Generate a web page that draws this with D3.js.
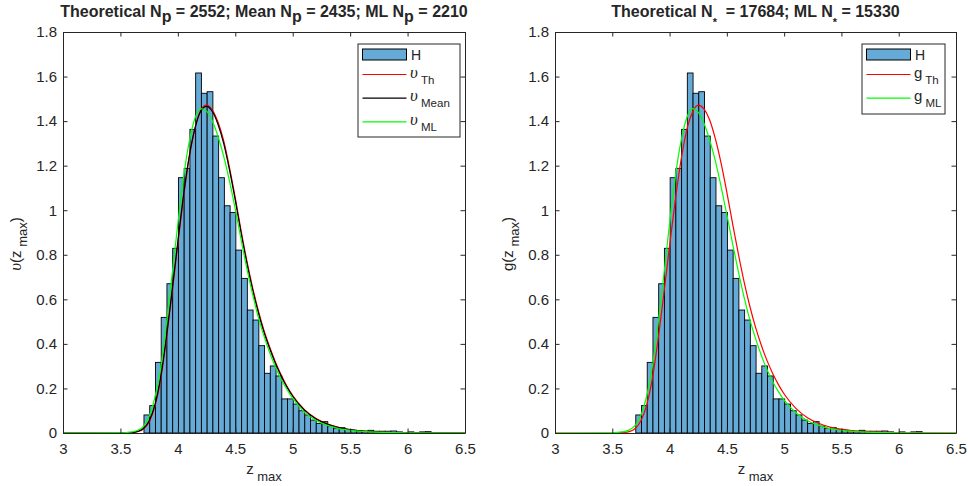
<!DOCTYPE html>
<html>
<head>
<meta charset="utf-8">
<script src="https://cdn.jsdelivr.net/npm/d3@7"></script>
<style>
  body { margin: 0; background: #fff; }
  svg text { font-family: "Liberation Sans", Arial, Helvetica, sans-serif; fill: #262626; white-space: pre; }
</style>
</head>
<body>
<svg id="chart" width="968" height="486"></svg>
<script>
// histogram of z_max (pdf normalised), same sample in both panels
var binEdges = [3.705, 3.755, 3.805, 3.855, 3.905, 3.955, 4.005, 4.055, 4.105, 4.155,
                4.205, 4.255, 4.305, 4.355, 4.405, 4.455, 4.505, 4.555, 4.605, 4.655,
                4.705, 4.755, 4.805, 4.855, 4.905, 4.955, 5.005, 5.055, 5.105, 5.155,
                5.205, 5.255, 5.305, 5.355, 5.405, 5.455, 5.505, 5.555, 5.605, 5.655,
                5.705, 5.755, 5.805, 5.855, 5.905, 5.955, 6.005, 6.055, 6.105, 6.155, 6.205];
var density = [0.081, 0.123, 0.317, 0.519, 0.670, 0.829, 1.146, 1.188, 1.363, 1.616,
               1.525, 1.532, 1.333, 1.146, 1.020, 0.990, 0.821, 0.694, 0.552, 0.507,
               0.392, 0.268, 0.301, 0.256, 0.153, 0.153, 0.130, 0.100, 0.081, 0.058,
               0.043, 0.051, 0.031, 0.021, 0.024, 0.016, 0.012, 0.011, 0.008, 0.012,
               0.008, 0.008, 0.008, 0.009, 0.005, 0, 0.005, 0, 0.005, 0.006];

// fitted pdf curves, read at these z values
var zGrid = [3.0, 3.5, 3.55, 3.6, 3.65, 3.7, 3.75, 3.8, 3.85, 3.9, 3.95, 4.0, 4.05, 4.1,
             4.15, 4.2, 4.25, 4.3, 4.35, 4.4, 4.45, 4.5, 4.55, 4.6, 4.65, 4.7, 4.75, 4.8,
             4.85, 4.9, 4.95, 5.0, 5.1, 5.2, 5.3, 5.4, 5.5, 5.6, 5.8, 6.0, 6.5];
var vTh   = [0, 0, 0.001, 0.002, 0.006, 0.018, 0.05, 0.12, 0.24, 0.42, 0.63, 0.85, 1.06, 1.24,
             1.37, 1.45, 1.472, 1.45, 1.395, 1.31, 1.19, 1.055, 0.91, 0.775, 0.655, 0.55, 0.46, 0.385,
             0.318, 0.26, 0.21, 0.168, 0.106, 0.066, 0.041, 0.025, 0.015, 0.009, 0.003, 0.001, 0];
var vMean = [0, 0, 0.001, 0.002, 0.007, 0.02, 0.054, 0.126, 0.25, 0.43, 0.64, 0.86, 1.07, 1.245,
             1.37, 1.445, 1.466, 1.443, 1.385, 1.298, 1.18, 1.045, 0.90, 0.765, 0.645, 0.542, 0.452, 0.378,
             0.312, 0.255, 0.206, 0.165, 0.104, 0.064, 0.04, 0.024, 0.015, 0.009, 0.003, 0.001, 0];
var vML   = [0, 0.001, 0.002, 0.005, 0.012, 0.03, 0.075, 0.16, 0.29, 0.49, 0.71, 0.94, 1.15, 1.31,
             1.415, 1.456, 1.445, 1.40, 1.33, 1.24, 1.13, 1.005, 0.87, 0.74, 0.625, 0.52, 0.435, 0.36,
             0.295, 0.24, 0.195, 0.155, 0.095, 0.057, 0.034, 0.02, 0.012, 0.007, 0.0025, 0.001, 0];
var gTh   = [0, 0, 0.001, 0.002, 0.006, 0.02, 0.055, 0.125, 0.245, 0.42, 0.625, 0.84, 1.045, 1.225,
             1.36, 1.44, 1.472, 1.455, 1.405, 1.32, 1.21, 1.08, 0.94, 0.805, 0.68, 0.57, 0.475, 0.395,
             0.326, 0.267, 0.217, 0.175, 0.112, 0.07, 0.044, 0.027, 0.017, 0.01, 0.0035, 0.001, 0];
var gML   = [0, 0.001, 0.003, 0.006, 0.014, 0.034, 0.08, 0.165, 0.30, 0.49, 0.71, 0.94, 1.15, 1.31,
             1.415, 1.456, 1.44, 1.39, 1.315, 1.22, 1.105, 0.98, 0.85, 0.725, 0.61, 0.51, 0.425, 0.35,
             0.285, 0.23, 0.186, 0.148, 0.092, 0.056, 0.034, 0.02, 0.012, 0.007, 0.0025, 0.001, 0];

var xTicks = [3, 3.5, 4, 4.5, 5, 5.5, 6, 6.5];
var yTicks = [0, 0.2, 0.4, 0.6, 0.8, 1, 1.2, 1.4, 1.6, 1.8];

var axisColor = '#262626';
var barColor = '#66aad7';
var plotTop = 32, plotBottom = 433;

var svg = d3.select('#chart');

// writes text with lowered (subscript) pieces
function rich(text, parts, shift, subSize) {
  var cur = 0;
  parts.forEach(function(p) {
    var s = p.sub ? (p.shift || shift) : 0;
    var t = text.append('tspan').text(p.t).attr('dy', s - cur);
    cur = s;
    if (p.size) t.style('font-size', p.size + 'px');
    else if (p.sub && subSize) t.style('font-size', subSize + 'px');
    if (p.greek) t.style('font-family', '"Liberation Serif", "DejaVu Serif", serif').style('font-style', 'italic');
  });
  return text;
}

function drawPanel(cfg) {
  var x = d3.scaleLinear().domain([3, 6.5]).range([cfg.left, cfg.right]);
  var y = d3.scaleLinear().domain([0, 1.8]).range([plotBottom, plotTop]);
  var g = svg.append('g');

  var bins = density.map(function(d, i) { return { x0: binEdges[i], x1: binEdges[i + 1], v: d }; })
                    .filter(function(d) { return d.v > 0; });

  g.selectAll('rect.bar')
   .data(bins)
   .enter()
   .append('rect')
     .attr('class', 'bar')
     .attr('x', function(d) { return x(d.x0); })
     .attr('y', function(d) { return y(d.v); })
     .attr('width', function(d) { return x(d.x1) - x(d.x0); })
     .attr('height', function(d) { return y(0) - y(d.v); })
     .attr('fill', barColor)
     .attr('stroke', '#000')
     .attr('stroke-width', 0.9);

  var line = d3.line()
               .x(function(d) { return x(d[0]); })
               .y(function(d) { return y(d[1]); })
               .curve(d3.curveMonotoneX);

  cfg.curves.forEach(function(c) {
    g.append('path')
     .datum(zGrid.map(function(z, i) { return [z, c.values[i]]; }))
     .attr('d', line)
     .attr('fill', 'none')
     .attr('stroke', c.color)
     .attr('stroke-width', 1.2);
  });

  // axes, MATLAB style box with inward ticks
  function styleAxis(a) {
    a.selectAll('path').attr('stroke', axisColor).attr('stroke-width', 1);
    a.selectAll('line').attr('stroke', axisColor);
    a.selectAll('text').attr('fill', axisColor).style('font-size', '15px')
     .style('font-family', '"Liberation Sans", Arial, sans-serif');
  }
  var fmt = d3.format('~g');
  g.append('g').attr('transform', 'translate(0,' + plotBottom + ')')
   .call(d3.axisBottom(x).tickValues(xTicks).tickFormat(fmt).tickSizeInner(-4.5).tickSizeOuter(0).tickPadding(10))
   .call(styleAxis);
  g.append('g').attr('transform', 'translate(0,' + plotTop + ')')
   .call(d3.axisTop(x).tickValues(xTicks).tickFormat('').tickSizeInner(-4.5).tickSizeOuter(0))
   .call(styleAxis);
  g.append('g').attr('transform', 'translate(' + cfg.left + ',0)')
   .call(d3.axisLeft(y).tickValues(yTicks).tickFormat(fmt).tickSizeInner(-4.5).tickSizeOuter(0).tickPadding(6))
   .call(styleAxis);
  g.append('g').attr('transform', 'translate(' + cfg.right + ',0)')
   .call(d3.axisRight(y).tickValues(yTicks).tickFormat('').tickSizeInner(-4.5).tickSizeOuter(0))
   .call(styleAxis);

  // title
  var cx = (cfg.left + cfg.right) / 2;
  rich(g.append('text').attr('x', cx).attr('y', 17).attr('text-anchor', 'middle')
        .style('font-size', '16px').style('font-weight', 'bold').attr('fill', '#000'),
       cfg.title, 5);

  // x label
  rich(g.append('text').attr('x', cx).attr('y', 474).attr('text-anchor', 'middle')
        .style('font-size', '15px'),
       [{ t: 'z' }, { t: ' max', sub: true }], 7, 13);

  // y label
  rich(g.append('text')
        .attr('transform', 'translate(' + (cfg.left - 42) + ',244) rotate(-90)')
        .attr('text-anchor', 'middle').style('font-size', '15px'),
       cfg.ylabel, 6, 13);

  // legend
  var lg = g.append('g').attr('transform', 'translate(' + cfg.legend.x + ',44)');
  lg.append('rect').attr('width', cfg.legend.w).attr('height', cfg.legend.h)
    .attr('fill', '#fff').attr('stroke', axisColor).attr('stroke-width', 1);
  lg.append('rect').attr('x', 4.5).attr('y', 5).attr('width', 44).attr('height', 11)
    .attr('fill', barColor).attr('stroke', '#000').attr('stroke-width', 1);
  lg.append('text').attr('x', 53).attr('y', 15.5).style('font-size', '14px').text('H');
  cfg.curves.forEach(function(c, i) {
    var ly = 30.5 + i * 23.7;
    lg.append('line').attr('x1', 4.5).attr('x2', 48.5).attr('y1', ly).attr('y2', ly)
      .attr('stroke', c.color).attr('stroke-width', 1.2);
    rich(lg.append('text').attr('x', 52).attr('y', ly + 3).style('font-size', '15px'),
         c.label, 6, 11.5);
  });
}

drawPanel({
  left: 63, right: 465,
  title: [{ t: 'Theoretical N' }, { t: 'p', sub: true }, { t: ' = 2552; Mean N' }, { t: 'p', sub: true },
          { t: ' = 2435; ML N' }, { t: 'p', sub: true }, { t: ' = 2210' }],
  ylabel: [{ t: 'υ', greek: true, size: 17 }, { t: '(z' }, { t: ' max', sub: true }, { t: ')' }],
  legend: { x: 358, w: 102, h: 93 },
  curves: [
    { values: vTh, color: '#ff0000', label: [{ t: 'υ', greek: true, size: 17 }, { t: ' Th', sub: true }] },
    { values: vMean, color: '#000000', label: [{ t: 'υ', greek: true, size: 17 }, { t: ' Mean', sub: true }] },
    { values: vML, color: '#00ff00', label: [{ t: 'υ', greek: true, size: 17 }, { t: ' ML', sub: true }] }
  ]
});

drawPanel({
  left: 555, right: 956,
  title: [{ t: 'Theoretical N' }, { t: '*', sub: true, shift: 9, size: 11 }, { t: '  = 17684; ML N' },
          { t: '*', sub: true, shift: 9, size: 11 }, { t: ' = 15330' }],
  ylabel: [{ t: 'g(z' }, { t: ' max', sub: true }, { t: ')' }],
  legend: { x: 862, w: 83, h: 70 },
  curves: [
    { values: gTh, color: '#ff0000', label: [{ t: 'g' }, { t: ' Th', sub: true }] },
    { values: gML, color: '#00ff00', label: [{ t: 'g' }, { t: ' ML', sub: true }] }
  ]
});
</script>
</body>
</html>
